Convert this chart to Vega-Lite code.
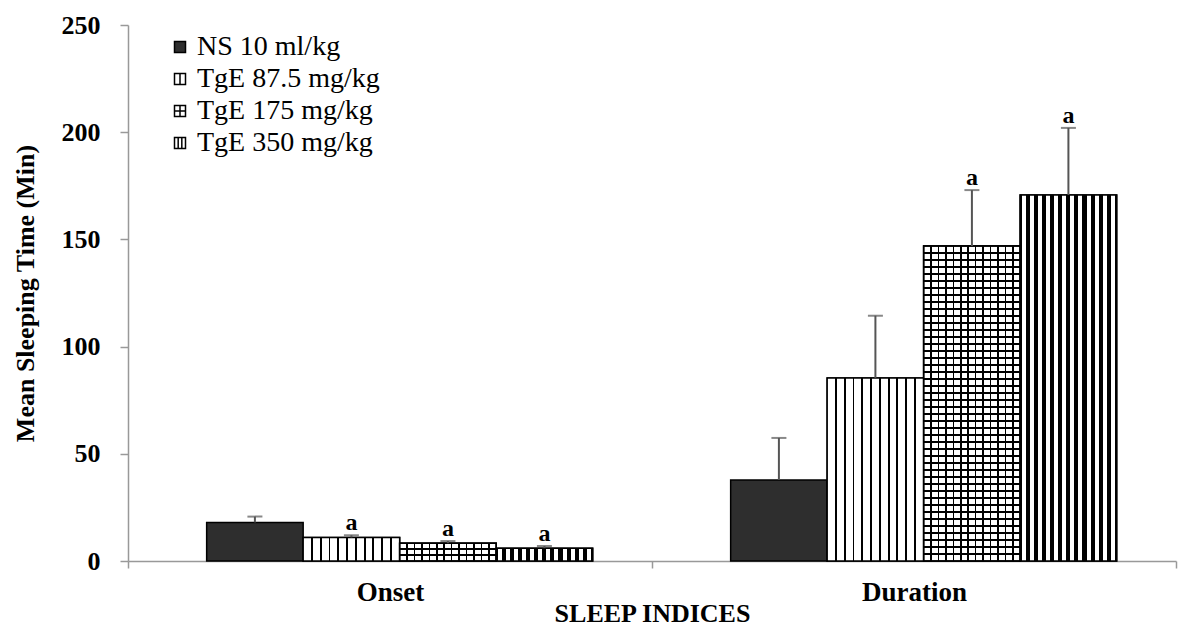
{
  "$schema": "https://vega.github.io/schema/vega-lite/v6.json",
  "autosize": {"type": "none"},
  "padding": {"left": 128, "top": 25, "right": 2, "bottom": 68},
  "width": 1048,
  "height": 536,
  "background": "white",
  "data": {"values": [
    {"index": "Onset", "series": "NS 10 ml/kg", "mean": 18, "upper": 20.7, "sig": ""},
    {"index": "Onset", "series": "TgE 87.5 mg/kg", "mean": 11, "upper": 12, "sig": "a"},
    {"index": "Onset", "series": "TgE 175 mg/kg", "mean": 8.3, "upper": 9.3, "sig": "a"},
    {"index": "Onset", "series": "TgE 350 mg/kg", "mean": 6, "upper": 7, "sig": "a"},
    {"index": "Duration", "series": "NS 10 ml/kg", "mean": 37.8, "upper": 57.4, "sig": ""},
    {"index": "Duration", "series": "TgE 87.5 mg/kg", "mean": 85.4, "upper": 114.4, "sig": ""},
    {"index": "Duration", "series": "TgE 175 mg/kg", "mean": 146.9, "upper": 173, "sig": "a"},
    {"index": "Duration", "series": "TgE 350 mg/kg", "mean": 170.7, "upper": 202, "sig": "a"}
  ]},
  "encoding": {
    "x": {"field": "index", "type": "nominal", "sort": ["Onset", "Duration"], "title": "SLEEP INDICES",
      "scale": {"domain": ["Onset", "Duration"], "paddingInner": 0, "paddingOuter": 0}},
    "xOffset": {"field": "series", "type": "nominal",
      "scale": {"domain": ["NS 10 ml/kg", "TgE 87.5 mg/kg", "TgE 175 mg/kg", "TgE 350 mg/kg"], "paddingInner": 0, "paddingOuter": 0.715, "align": 0.57}}
  },
  "layer": [
    {
      "mark": {"type": "bar", "stroke": "black", "strokeWidth": 1.5},
      "encoding": {
        "y": {"field": "mean", "type": "quantitative", "title": "Mean Sleeping Time (Min)", "scale": {"domain": [0, 250], "nice": false},
          "axis": {"values": [0, 50, 100, 150, 200, 250]}},
        "fill": {"field": "series", "type": "nominal",
          "scale": {"domain": ["NS 10 ml/kg", "TgE 87.5 mg/kg", "TgE 175 mg/kg", "TgE 350 mg/kg"], "range": ["#2e2e2e", "white", "white", "white"]},
          "legend": {
            "title": null, "orient": "none", "legendX": 38, "legendY": 8, "padding": 0,
            "symbolType": "square", "symbolSize": 121, "symbolStrokeColor": "black", "symbolStrokeWidth": 1.5,
            "labelFont": "Liberation Serif", "labelFontSize": 28, "labelColor": "black", "labelOffset": 3, "rowPadding": 4, "labelLimit": 400,
            "encode": {"symbols": {"update": {
              "shape": [
                {"test": "datum.value === 'TgE 87.5 mg/kg'", "value": "M-1,-1H1V1H-1Z M0,-1V1"},
                {"test": "datum.value === 'TgE 175 mg/kg'", "value": "M-1,-1H1V1H-1Z M0,-1V1 M-1,0H1"},
                {"test": "datum.value === 'TgE 350 mg/kg'", "value": "M-1,-1H1V1H-1Z M-0.33,-1V1 M0.33,-1V1"},
                {"value": "square"}
              ],
              "stroke": {"value": "black"},
              "strokeWidth": {"value": 1.5}
            }}}
          }}
      }
    },
    {
      "transform": [{"filter": "datum.series === 'TgE 87.5 mg/kg'"}],
      "mark": {"type": "bar", "stroke": "black", "strokeWidth": 1.5,
        "fill": {"gradient": "linear", "x1": 0, "y1": 0, "x2": 1, "y2": 0, "stops": [
          {"offset": 0, "color": "#fff"},
          {"offset": 0.0809, "color": "#fff"}, {"offset": 0.0809, "color": "#000"}, {"offset": 0.1009, "color": "#000"}, {"offset": 0.1009, "color": "#fff"},
          {"offset": 0.1718, "color": "#fff"}, {"offset": 0.1718, "color": "#000"}, {"offset": 0.1918, "color": "#000"}, {"offset": 0.1918, "color": "#fff"},
          {"offset": 0.2627, "color": "#fff"}, {"offset": 0.2627, "color": "#000"}, {"offset": 0.2827, "color": "#000"}, {"offset": 0.2827, "color": "#fff"},
          {"offset": 0.3536, "color": "#fff"}, {"offset": 0.3536, "color": "#000"}, {"offset": 0.3736, "color": "#000"}, {"offset": 0.3736, "color": "#fff"},
          {"offset": 0.4445, "color": "#fff"}, {"offset": 0.4445, "color": "#000"}, {"offset": 0.4645, "color": "#000"}, {"offset": 0.4645, "color": "#fff"},
          {"offset": 0.5355, "color": "#fff"}, {"offset": 0.5355, "color": "#000"}, {"offset": 0.5555, "color": "#000"}, {"offset": 0.5555, "color": "#fff"},
          {"offset": 0.6264, "color": "#fff"}, {"offset": 0.6264, "color": "#000"}, {"offset": 0.6464, "color": "#000"}, {"offset": 0.6464, "color": "#fff"},
          {"offset": 0.7173, "color": "#fff"}, {"offset": 0.7173, "color": "#000"}, {"offset": 0.7373, "color": "#000"}, {"offset": 0.7373, "color": "#fff"},
          {"offset": 0.8082, "color": "#fff"}, {"offset": 0.8082, "color": "#000"}, {"offset": 0.8282, "color": "#000"}, {"offset": 0.8282, "color": "#fff"},
          {"offset": 0.8991, "color": "#fff"}, {"offset": 0.8991, "color": "#000"}, {"offset": 0.9191, "color": "#000"}, {"offset": 0.9191, "color": "#fff"},
          {"offset": 1, "color": "#fff"}
        ]}},
      "encoding": {"y": {"field": "mean", "type": "quantitative", "title": "Mean Sleeping Time (Min)"}}
    },
    {
      "transform": [{"filter": "datum.series === 'TgE 175 mg/kg'"}],
      "mark": {"type": "bar", "stroke": "black", "strokeWidth": 1.5,
        "fill": {"gradient": "linear", "x1": 0, "y1": 0, "x2": 1, "y2": 0, "stops": [
          {"offset": 0, "color": "#fff"},
          {"offset": 0.0689, "color": "#fff"}, {"offset": 0.0689, "color": "#000"}, {"offset": 0.0849, "color": "#000"}, {"offset": 0.0849, "color": "#fff"},
          {"offset": 0.1458, "color": "#fff"}, {"offset": 0.1458, "color": "#000"}, {"offset": 0.1618, "color": "#000"}, {"offset": 0.1618, "color": "#fff"},
          {"offset": 0.2228, "color": "#fff"}, {"offset": 0.2228, "color": "#000"}, {"offset": 0.2388, "color": "#000"}, {"offset": 0.2388, "color": "#fff"},
          {"offset": 0.2997, "color": "#fff"}, {"offset": 0.2997, "color": "#000"}, {"offset": 0.3157, "color": "#000"}, {"offset": 0.3157, "color": "#fff"},
          {"offset": 0.3766, "color": "#fff"}, {"offset": 0.3766, "color": "#000"}, {"offset": 0.3926, "color": "#000"}, {"offset": 0.3926, "color": "#fff"},
          {"offset": 0.4535, "color": "#fff"}, {"offset": 0.4535, "color": "#000"}, {"offset": 0.4695, "color": "#000"}, {"offset": 0.4695, "color": "#fff"},
          {"offset": 0.5305, "color": "#fff"}, {"offset": 0.5305, "color": "#000"}, {"offset": 0.5465, "color": "#000"}, {"offset": 0.5465, "color": "#fff"},
          {"offset": 0.6074, "color": "#fff"}, {"offset": 0.6074, "color": "#000"}, {"offset": 0.6234, "color": "#000"}, {"offset": 0.6234, "color": "#fff"},
          {"offset": 0.6843, "color": "#fff"}, {"offset": 0.6843, "color": "#000"}, {"offset": 0.7003, "color": "#000"}, {"offset": 0.7003, "color": "#fff"},
          {"offset": 0.7612, "color": "#fff"}, {"offset": 0.7612, "color": "#000"}, {"offset": 0.7772, "color": "#000"}, {"offset": 0.7772, "color": "#fff"},
          {"offset": 0.8382, "color": "#fff"}, {"offset": 0.8382, "color": "#000"}, {"offset": 0.8542, "color": "#000"}, {"offset": 0.8542, "color": "#fff"},
          {"offset": 0.9151, "color": "#fff"}, {"offset": 0.9151, "color": "#000"}, {"offset": 0.9311, "color": "#000"}, {"offset": 0.9311, "color": "#fff"},
          {"offset": 1, "color": "#fff"}
        ]}},
      "encoding": {"y": {"field": "mean", "type": "quantitative", "title": "Mean Sleeping Time (Min)"}}
    },
    {
      "transform": [{"filter": "datum.series === 'TgE 175 mg/kg' && datum.index === 'Onset'"}],
      "mark": {"type": "bar", "stroke": "black", "strokeWidth": 1.5,
        "fill": {"gradient": "linear", "x1": 0, "y1": 0, "x2": 0, "y2": 1, "stops": [
          {"offset": 0, "color": "#0000"},
          {"offset": 0.291, "color": "#0000"}, {"offset": 0.291, "color": "#000"}, {"offset": 0.375, "color": "#000"}, {"offset": 0.375, "color": "#0000"},
          {"offset": 0.625, "color": "#0000"}, {"offset": 0.625, "color": "#000"}, {"offset": 0.709, "color": "#000"}, {"offset": 0.709, "color": "#0000"},
          {"offset": 1, "color": "#0000"}
        ]}},
      "encoding": {"y": {"field": "mean", "type": "quantitative", "title": "Mean Sleeping Time (Min)"}}
    },
    {
      "transform": [{"filter": "datum.series === 'TgE 175 mg/kg' && datum.index === 'Duration'"}],
      "mark": {"type": "bar", "stroke": "black", "strokeWidth": 1.5,
        "fill": {"gradient": "linear", "x1": 0, "y1": 0, "x2": 0, "y2": 1, "stops": [
          {"offset": 0, "color": "#0000"},
          {"offset": 0.0198, "color": "#0000"}, {"offset": 0.0198, "color": "#000"}, {"offset": 0.0246, "color": "#000"}, {"offset": 0.0246, "color": "#0000"},
          {"offset": 0.0420, "color": "#0000"}, {"offset": 0.0420, "color": "#000"}, {"offset": 0.0468, "color": "#000"}, {"offset": 0.0468, "color": "#0000"},
          {"offset": 0.0643, "color": "#0000"}, {"offset": 0.0643, "color": "#000"}, {"offset": 0.0691, "color": "#000"}, {"offset": 0.0691, "color": "#0000"},
          {"offset": 0.0865, "color": "#0000"}, {"offset": 0.0865, "color": "#000"}, {"offset": 0.0913, "color": "#000"}, {"offset": 0.0913, "color": "#0000"},
          {"offset": 0.1087, "color": "#0000"}, {"offset": 0.1087, "color": "#000"}, {"offset": 0.1135, "color": "#000"}, {"offset": 0.1135, "color": "#0000"},
          {"offset": 0.1309, "color": "#0000"}, {"offset": 0.1309, "color": "#000"}, {"offset": 0.1357, "color": "#000"}, {"offset": 0.1357, "color": "#0000"},
          {"offset": 0.1532, "color": "#0000"}, {"offset": 0.1532, "color": "#000"}, {"offset": 0.1580, "color": "#000"}, {"offset": 0.1580, "color": "#0000"},
          {"offset": 0.1754, "color": "#0000"}, {"offset": 0.1754, "color": "#000"}, {"offset": 0.1802, "color": "#000"}, {"offset": 0.1802, "color": "#0000"},
          {"offset": 0.1976, "color": "#0000"}, {"offset": 0.1976, "color": "#000"}, {"offset": 0.2024, "color": "#000"}, {"offset": 0.2024, "color": "#0000"},
          {"offset": 0.2198, "color": "#0000"}, {"offset": 0.2198, "color": "#000"}, {"offset": 0.2246, "color": "#000"}, {"offset": 0.2246, "color": "#0000"},
          {"offset": 0.2420, "color": "#0000"}, {"offset": 0.2420, "color": "#000"}, {"offset": 0.2468, "color": "#000"}, {"offset": 0.2468, "color": "#0000"},
          {"offset": 0.2643, "color": "#0000"}, {"offset": 0.2643, "color": "#000"}, {"offset": 0.2691, "color": "#000"}, {"offset": 0.2691, "color": "#0000"},
          {"offset": 0.2865, "color": "#0000"}, {"offset": 0.2865, "color": "#000"}, {"offset": 0.2913, "color": "#000"}, {"offset": 0.2913, "color": "#0000"},
          {"offset": 0.3087, "color": "#0000"}, {"offset": 0.3087, "color": "#000"}, {"offset": 0.3135, "color": "#000"}, {"offset": 0.3135, "color": "#0000"},
          {"offset": 0.3309, "color": "#0000"}, {"offset": 0.3309, "color": "#000"}, {"offset": 0.3357, "color": "#000"}, {"offset": 0.3357, "color": "#0000"},
          {"offset": 0.3532, "color": "#0000"}, {"offset": 0.3532, "color": "#000"}, {"offset": 0.3580, "color": "#000"}, {"offset": 0.3580, "color": "#0000"},
          {"offset": 0.3754, "color": "#0000"}, {"offset": 0.3754, "color": "#000"}, {"offset": 0.3802, "color": "#000"}, {"offset": 0.3802, "color": "#0000"},
          {"offset": 0.3976, "color": "#0000"}, {"offset": 0.3976, "color": "#000"}, {"offset": 0.4024, "color": "#000"}, {"offset": 0.4024, "color": "#0000"},
          {"offset": 0.4198, "color": "#0000"}, {"offset": 0.4198, "color": "#000"}, {"offset": 0.4246, "color": "#000"}, {"offset": 0.4246, "color": "#0000"},
          {"offset": 0.4420, "color": "#0000"}, {"offset": 0.4420, "color": "#000"}, {"offset": 0.4468, "color": "#000"}, {"offset": 0.4468, "color": "#0000"},
          {"offset": 0.4643, "color": "#0000"}, {"offset": 0.4643, "color": "#000"}, {"offset": 0.4691, "color": "#000"}, {"offset": 0.4691, "color": "#0000"},
          {"offset": 0.4865, "color": "#0000"}, {"offset": 0.4865, "color": "#000"}, {"offset": 0.4913, "color": "#000"}, {"offset": 0.4913, "color": "#0000"},
          {"offset": 0.5087, "color": "#0000"}, {"offset": 0.5087, "color": "#000"}, {"offset": 0.5135, "color": "#000"}, {"offset": 0.5135, "color": "#0000"},
          {"offset": 0.5309, "color": "#0000"}, {"offset": 0.5309, "color": "#000"}, {"offset": 0.5357, "color": "#000"}, {"offset": 0.5357, "color": "#0000"},
          {"offset": 0.5532, "color": "#0000"}, {"offset": 0.5532, "color": "#000"}, {"offset": 0.5580, "color": "#000"}, {"offset": 0.5580, "color": "#0000"},
          {"offset": 0.5754, "color": "#0000"}, {"offset": 0.5754, "color": "#000"}, {"offset": 0.5802, "color": "#000"}, {"offset": 0.5802, "color": "#0000"},
          {"offset": 0.5976, "color": "#0000"}, {"offset": 0.5976, "color": "#000"}, {"offset": 0.6024, "color": "#000"}, {"offset": 0.6024, "color": "#0000"},
          {"offset": 0.6198, "color": "#0000"}, {"offset": 0.6198, "color": "#000"}, {"offset": 0.6246, "color": "#000"}, {"offset": 0.6246, "color": "#0000"},
          {"offset": 0.6420, "color": "#0000"}, {"offset": 0.6420, "color": "#000"}, {"offset": 0.6468, "color": "#000"}, {"offset": 0.6468, "color": "#0000"},
          {"offset": 0.6643, "color": "#0000"}, {"offset": 0.6643, "color": "#000"}, {"offset": 0.6691, "color": "#000"}, {"offset": 0.6691, "color": "#0000"},
          {"offset": 0.6865, "color": "#0000"}, {"offset": 0.6865, "color": "#000"}, {"offset": 0.6913, "color": "#000"}, {"offset": 0.6913, "color": "#0000"},
          {"offset": 0.7087, "color": "#0000"}, {"offset": 0.7087, "color": "#000"}, {"offset": 0.7135, "color": "#000"}, {"offset": 0.7135, "color": "#0000"},
          {"offset": 0.7309, "color": "#0000"}, {"offset": 0.7309, "color": "#000"}, {"offset": 0.7357, "color": "#000"}, {"offset": 0.7357, "color": "#0000"},
          {"offset": 0.7532, "color": "#0000"}, {"offset": 0.7532, "color": "#000"}, {"offset": 0.7580, "color": "#000"}, {"offset": 0.7580, "color": "#0000"},
          {"offset": 0.7754, "color": "#0000"}, {"offset": 0.7754, "color": "#000"}, {"offset": 0.7802, "color": "#000"}, {"offset": 0.7802, "color": "#0000"},
          {"offset": 0.7976, "color": "#0000"}, {"offset": 0.7976, "color": "#000"}, {"offset": 0.8024, "color": "#000"}, {"offset": 0.8024, "color": "#0000"},
          {"offset": 0.8198, "color": "#0000"}, {"offset": 0.8198, "color": "#000"}, {"offset": 0.8246, "color": "#000"}, {"offset": 0.8246, "color": "#0000"},
          {"offset": 0.8420, "color": "#0000"}, {"offset": 0.8420, "color": "#000"}, {"offset": 0.8468, "color": "#000"}, {"offset": 0.8468, "color": "#0000"},
          {"offset": 0.8643, "color": "#0000"}, {"offset": 0.8643, "color": "#000"}, {"offset": 0.8691, "color": "#000"}, {"offset": 0.8691, "color": "#0000"},
          {"offset": 0.8865, "color": "#0000"}, {"offset": 0.8865, "color": "#000"}, {"offset": 0.8913, "color": "#000"}, {"offset": 0.8913, "color": "#0000"},
          {"offset": 0.9087, "color": "#0000"}, {"offset": 0.9087, "color": "#000"}, {"offset": 0.9135, "color": "#000"}, {"offset": 0.9135, "color": "#0000"},
          {"offset": 0.9309, "color": "#0000"}, {"offset": 0.9309, "color": "#000"}, {"offset": 0.9357, "color": "#000"}, {"offset": 0.9357, "color": "#0000"},
          {"offset": 0.9532, "color": "#0000"}, {"offset": 0.9532, "color": "#000"}, {"offset": 0.9580, "color": "#000"}, {"offset": 0.9580, "color": "#0000"},
          {"offset": 0.9754, "color": "#0000"}, {"offset": 0.9754, "color": "#000"}, {"offset": 0.9802, "color": "#000"}, {"offset": 0.9802, "color": "#0000"},
          {"offset": 1, "color": "#0000"}
        ]}},
      "encoding": {"y": {"field": "mean", "type": "quantitative", "title": "Mean Sleeping Time (Min)"}}
    },
    {
      "transform": [{"filter": "datum.series === 'TgE 350 mg/kg'"}],
      "mark": {"type": "bar", "stroke": "black", "strokeWidth": 1.5,
        "fill": {"gradient": "linear", "x1": 0, "y1": 0, "x2": 1, "y2": 0, "stops": [
          {"offset": 0, "color": "#000"}, {"offset": 0.021, "color": "#000"}, {"offset": 0.021, "color": "#fff"},
          {"offset": 0.0623, "color": "#fff"}, {"offset": 0.0623, "color": "#000"}, {"offset": 0.1043, "color": "#000"}, {"offset": 0.1043, "color": "#fff"},
          {"offset": 0.1457, "color": "#fff"}, {"offset": 0.1457, "color": "#000"}, {"offset": 0.1877, "color": "#000"}, {"offset": 0.1877, "color": "#fff"},
          {"offset": 0.229, "color": "#fff"}, {"offset": 0.229, "color": "#000"}, {"offset": 0.271, "color": "#000"}, {"offset": 0.271, "color": "#fff"},
          {"offset": 0.3123, "color": "#fff"}, {"offset": 0.3123, "color": "#000"}, {"offset": 0.3543, "color": "#000"}, {"offset": 0.3543, "color": "#fff"},
          {"offset": 0.3957, "color": "#fff"}, {"offset": 0.3957, "color": "#000"}, {"offset": 0.4377, "color": "#000"}, {"offset": 0.4377, "color": "#fff"},
          {"offset": 0.479, "color": "#fff"}, {"offset": 0.479, "color": "#000"}, {"offset": 0.521, "color": "#000"}, {"offset": 0.521, "color": "#fff"},
          {"offset": 0.5623, "color": "#fff"}, {"offset": 0.5623, "color": "#000"}, {"offset": 0.6043, "color": "#000"}, {"offset": 0.6043, "color": "#fff"},
          {"offset": 0.6457, "color": "#fff"}, {"offset": 0.6457, "color": "#000"}, {"offset": 0.6877, "color": "#000"}, {"offset": 0.6877, "color": "#fff"},
          {"offset": 0.729, "color": "#fff"}, {"offset": 0.729, "color": "#000"}, {"offset": 0.771, "color": "#000"}, {"offset": 0.771, "color": "#fff"},
          {"offset": 0.8123, "color": "#fff"}, {"offset": 0.8123, "color": "#000"}, {"offset": 0.8543, "color": "#000"}, {"offset": 0.8543, "color": "#fff"},
          {"offset": 0.8957, "color": "#fff"}, {"offset": 0.8957, "color": "#000"}, {"offset": 0.9377, "color": "#000"}, {"offset": 0.9377, "color": "#fff"},
          {"offset": 0.979, "color": "#fff"}, {"offset": 0.979, "color": "#000"}, {"offset": 1, "color": "#000"}
        ]}},
      "encoding": {"y": {"field": "mean", "type": "quantitative", "title": "Mean Sleeping Time (Min)"}}
    },
    {
      "mark": {"type": "rule", "color": "#555", "strokeWidth": 2},
      "encoding": {
        "y": {"field": "mean", "type": "quantitative", "title": "Mean Sleeping Time (Min)"},
        "y2": {"field": "upper"}
      }
    },
    {
      "mark": {"type": "tick", "color": "#555", "thickness": 2, "size": 15},
      "encoding": {"y": {"field": "upper", "type": "quantitative", "title": "Mean Sleeping Time (Min)"}}
    },
    {
      "mark": {"type": "text", "font": "Liberation Serif", "fontWeight": "bold", "fontSize": 24, "baseline": "alphabetic", "dy": -5, "color": "black"},
      "encoding": {
        "y": {"field": "upper", "type": "quantitative", "title": "Mean Sleeping Time (Min)"},
        "text": {"field": "sig"}
      }
    }
  ],
  "config": {
    "view": {"stroke": null},
    "axis": {"grid": false, "domainColor": "#999", "tickColor": "#999", "domainWidth": 1.5, "tickWidth": 1.5,
      "labelFont": "Liberation Serif", "labelFontWeight": "bold", "labelColor": "black",
      "titleFont": "Liberation Serif", "titleFontWeight": "bold", "titleColor": "black"},
    "axisY": {"labelFontSize": 26, "tickSize": 8, "labelPadding": 20,
      "titleFontSize": 26, "titleX": -103, "titleY": 268, "titleAngle": -90, "titleAlign": "center", "titleBaseline": "middle"},
    "axisX": {"labelAngle": 0, "labelFontSize": 27, "tickBand": "extent", "tickSize": 7, "labelPadding": 11,
      "titleFontSize": 26, "titleY": 60, "titleBaseline": "alphabetic"}
  }
}
